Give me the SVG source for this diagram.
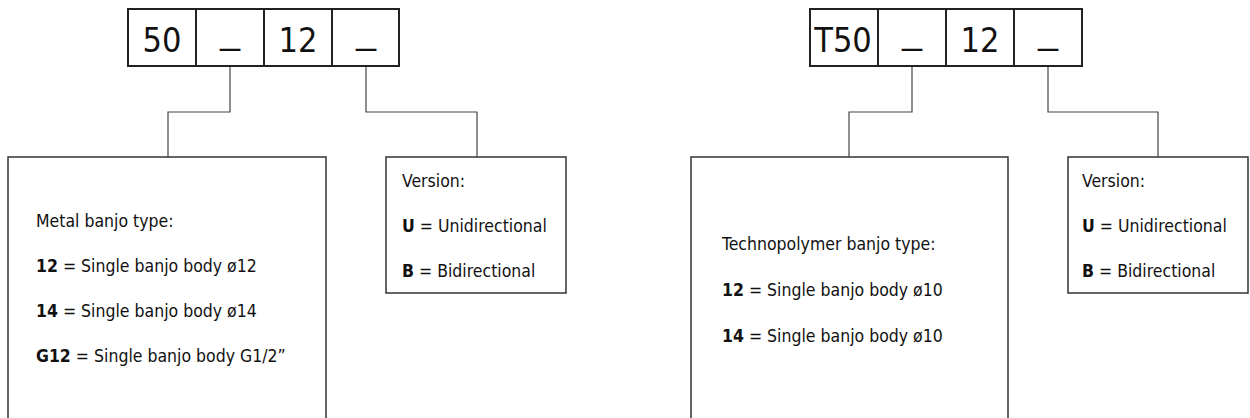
<svg xmlns="http://www.w3.org/2000/svg" width="1250" height="418" viewBox="0 0 1250 418">
<style>
.code{fill:#fff;stroke:#222;stroke-width:2}
.box{fill:#fff;stroke:#333;stroke-width:1.5}
.conn{fill:none;stroke:#444;stroke-width:1.2}
.big{font-family:"DejaVu Sans Condensed","DejaVu Sans",sans-serif;font-size:34px;fill:#111;text-anchor:middle}
.t{font-family:"DejaVu Sans Condensed","DejaVu Sans",sans-serif;font-size:17.5px;fill:#111}
.b{font-weight:bold}
</style>
<rect width="1250" height="418" fill="#fff"/>
<g id="connectors">
<path class="conn" d="M230,66 V112 H168 V157"/>
<path class="conn" d="M366,66 V112 H477 V157"/>
<path class="conn" d="M912,66 V112 H849 V157"/>
<path class="conn" d="M1048,66 V112 H1158 V157"/>
</g>
<g id="code-left">
<rect class="code" x="128" y="9" width="271" height="57"/>
<path class="code" d="M196,9 V66 M264,9 V66 M332,9 V66"/>
<text class="big" x="162" y="52">50</text>
<text class="big" x="230" y="43" textLength="20" lengthAdjust="spacingAndGlyphs">_</text>
<text class="big" x="298" y="52">12</text>
<text class="big" x="366" y="43" textLength="20" lengthAdjust="spacingAndGlyphs">_</text>
</g>
<g id="code-right">
<rect class="code" x="810" y="9" width="272" height="57"/>
<path class="code" d="M878,9 V66 M946,9 V66 M1014,9 V66"/>
<text class="big" x="843" y="52">T50</text>
<text class="big" x="912" y="43" textLength="20" lengthAdjust="spacingAndGlyphs">_</text>
<text class="big" x="980" y="52">12</text>
<text class="big" x="1048" y="43" textLength="20" lengthAdjust="spacingAndGlyphs">_</text>
</g>
<g id="metal-type">
<path class="box" d="M8,420 V157 H326 V420"/>
<text class="t" x="36" y="227">Metal banjo type:</text>
<text class="t" x="36" y="272"><tspan class="b">12</tspan> = Single banjo body ø12</text>
<text class="t" x="36" y="317"><tspan class="b">14</tspan> = Single banjo body ø14</text>
<text class="t" x="36" y="362"><tspan class="b">G12</tspan> = Single banjo body G1/2”</text>
</g>
<g id="version-left">
<rect class="box" x="386" y="157" width="180" height="136"/>
<text class="t" x="402" y="187">Version:</text>
<text class="t" x="402" y="232"><tspan class="b">U</tspan> = Unidirectional</text>
<text class="t" x="402" y="277"><tspan class="b">B</tspan> = Bidirectional</text>
</g>
<g id="techno-type">
<path class="box" d="M691,420 V157 H1008 V420"/>
<text class="t" x="722" y="250">Technopolymer banjo type:</text>
<text class="t" x="722" y="296"><tspan class="b">12</tspan> = Single banjo body ø10</text>
<text class="t" x="722" y="342"><tspan class="b">14</tspan> = Single banjo body ø10</text>
</g>
<g id="version-right">
<rect class="box" x="1068" y="157" width="180" height="136"/>
<text class="t" x="1082" y="187">Version:</text>
<text class="t" x="1082" y="232"><tspan class="b">U</tspan> = Unidirectional</text>
<text class="t" x="1082" y="277"><tspan class="b">B</tspan> = Bidirectional</text>
</g>
</svg>
